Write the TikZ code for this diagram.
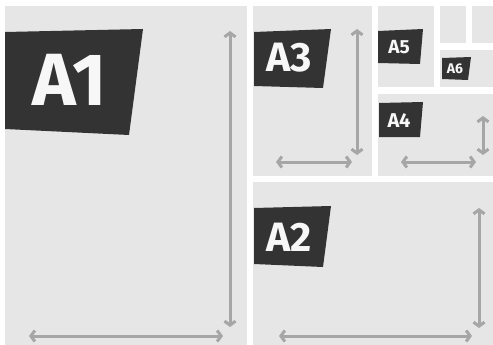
\documentclass[tikz,border=0pt]{standalone}
\usepackage{fontspec}
\setmainfont{Fira Sans}
\usetikzlibrary{arrows.meta}
\definecolor{panel}{HTML}{E6E6E6}
\definecolor{tag}{HTML}{333333}
\definecolor{arr}{HTML}{A6A6A6}
\definecolor{tagtext}{HTML}{F7F7F7}
\tikzset{
  panelbox/.style={fill=panel, draw=none},
  tagbox/.style={fill=tag, draw=none},
  tagtxt/.style={text=tagtext, font=\bfseries, inner sep=0pt, anchor=center},
  dimarrow/.style={draw=arr, line width=3pt, {Straight Barb[length=4pt,width=11pt]}-{Straight Barb[length=4pt,width=11pt]}},
}
\begin{document}
\begin{tikzpicture}[x=1pt,y=-1pt]
\useasboundingbox (0,0) rectangle (493,345);
\fill[white] (0,0) rectangle (493,345);
% panels
\path[panelbox] (5,6) rectangle (247,345);      % A1
\path[panelbox] (253,6) rectangle (372,176);    % A3
\path[panelbox] (378,6) rectangle (434,87);     % A5
\path[panelbox] (440,6) rectangle (466,43);     % small
\path[panelbox] (472,6) rectangle (493,43);     % small
\path[panelbox] (440,50) rectangle (493,87);    % A6
\path[panelbox] (378,94) rectangle (493,176);   % A4
\path[panelbox] (253,182) rectangle (493,345);  % A2
% tags
\path[tagbox] (5,32) -- (143,29) -- (129,135) -- (5,129) -- cycle;
\node[tagtxt, font=\fontsize{74}{74}\selectfont\bfseries] (tA1) at (70,80) {A1};
\path[tagbox] (254,32) -- (331,29) -- (323,88) -- (254,86) -- cycle;
\node[tagtxt, font=\fontsize{41}{41}\selectfont\bfseries] (tA3) at (289,58) {A3};
\path[tagbox] (378,31) -- (423,29) -- (420,64) -- (378,63) -- cycle;
\node[tagtxt, font=\fontsize{19}{19}\selectfont\bfseries] (tA5) at (399,47) {A5};
\path[tagbox] (442,58) -- (471,57) -- (468,80) -- (442,79) -- cycle;
\node[tagtxt, font=\fontsize{14}{14}\selectfont\bfseries] (tA6) at (455,69) {A6};
\path[tagbox] (379,103) -- (423,102) -- (420,137) -- (379,137) -- cycle;
\node[tagtxt, font=\fontsize{20}{20}\selectfont\bfseries] (tA4) at (399,121) {A4};
\path[tagbox] (254,208) -- (331,206) -- (323,267) -- (254,264) -- cycle;
\node[tagtxt, font=\fontsize{41}{41}\selectfont\bfseries] (tA2) at (289,237) {A2};
% arrows
\draw[dimarrow] (230,31) -- (230,327);
\draw[dimarrow] (29,336) -- (223,336);
\draw[dimarrow] (357,29) -- (357,155);
\draw[dimarrow] (276,162) -- (352,162);
\draw[dimarrow] (483,116) -- (483,155);
\draw[dimarrow] (401,162) -- (476,162);
\draw[dimarrow] (479,208) -- (479,328);
\draw[dimarrow] (279,336) -- (472,336);
\end{tikzpicture}
\end{document}
